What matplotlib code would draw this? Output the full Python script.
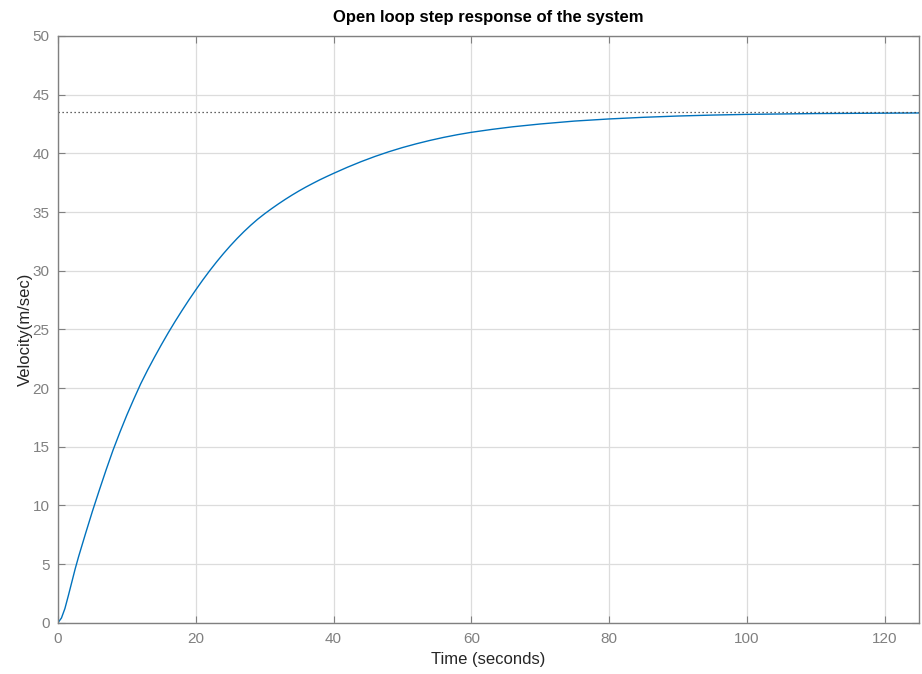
import matplotlib
matplotlib.use("Agg")
import matplotlib.pyplot as plt

plt.rcParams["font.family"] = ["Liberation Sans", "DejaVu Sans"]

time_s = [0, 0.5, 1, 1.5, 2, 2.5, 3, 4, 5, 6, 7, 8, 9, 10, 11, 12, 13, 14,
          15, 16, 17, 18, 19, 20, 21, 22, 23, 24, 25, 26, 27, 28, 29, 30, 31,
          32, 33, 34, 35, 36, 37, 38, 39, 40, 42, 44, 46, 48, 50, 52, 54, 56,
          58, 60, 63, 66, 70, 75, 80, 85, 90, 95, 100, 110, 125]
velocity = [0, 0.4, 1.2, 2.3, 3.45, 4.6, 5.65, 7.6, 9.5, 11.3, 13.05, 14.72,
            16.25, 17.7, 19.05, 20.35, 21.52, 22.62, 23.68, 24.7, 25.67, 26.6,
            27.5, 28.36, 29.19, 29.98, 30.73, 31.44, 32.11, 32.74, 33.33,
            33.88, 34.39, 34.85, 35.28, 35.69, 36.08, 36.45, 36.8, 37.13,
            37.44, 37.74, 38.02, 38.29, 38.81, 39.29, 39.73, 40.13, 40.49,
            40.81, 41.1, 41.36, 41.59, 41.79, 42.04, 42.26, 42.5, 42.75, 42.93,
            43.07, 43.18, 43.26, 43.32, 43.39, 43.44]
steady_state = 43.5

x_ticks = [0, 20, 40, 60, 80, 100, 120]
y_ticks = [0, 5, 10, 15, 20, 25, 30, 35, 40, 45, 50]

fig = plt.figure(figsize=(9.22, 6.74), dpi=100)
ax = fig.add_axes([0.0629, 0.0761, 0.9338, 0.8705])

ax.plot(time_s, velocity, color="#0072BD", linewidth=1.0)
ax.axhline(steady_state, color="#333333", linestyle=(0, (1, 2.2)), linewidth=0.9)

ax.set_xlim(0, 125)
ax.set_ylim(0, 50)
ax.set_xticks(x_ticks)
ax.set_yticks(y_ticks)

ax.grid(True, color="#dcdcdc", linewidth=0.9)
ax.set_axisbelow(True)
ax.tick_params(direction="in", length=5, width=0.8, colors="#808080",
               labelsize=11, top=True, right=True, pad=7)
ax.tick_params(axis="y", pad=6)
for sp in ax.spines.values():
    sp.set_color("#808080")
    sp.set_linewidth(1.0)

ax.set_xlabel("Time (seconds)", fontsize=12, color="#262626", labelpad=4)
ax.set_ylabel("Velocity(m/sec)", fontsize=12, color="#262626", labelpad=0)
ax.set_title("Open loop step response of the system", fontsize=12,
             fontweight="bold", pad=10)

fig.savefig("out.png", dpi=100)
